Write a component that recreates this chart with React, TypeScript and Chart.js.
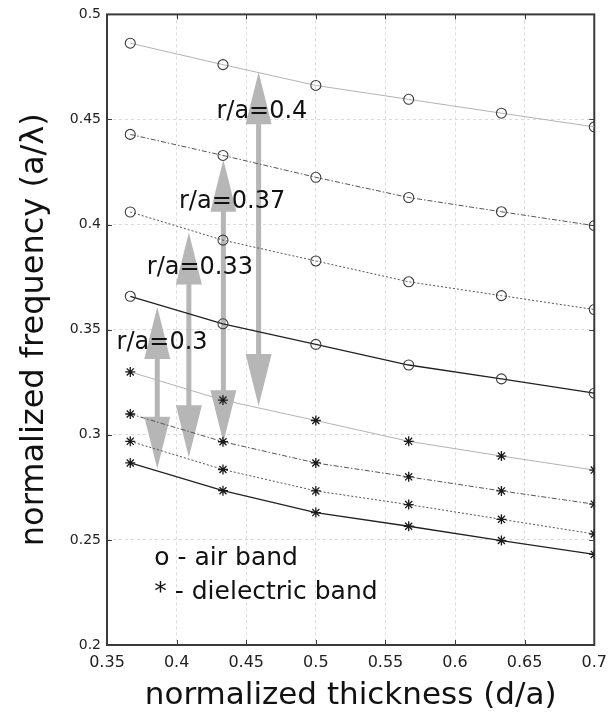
import React, { useEffect, useRef } from "react";
import { Chart, registerables } from "chart.js";

Chart.register(...registerables);

// ---- data ----
const thickness = [0.3667, 0.4333, 0.5, 0.5667, 0.6333, 0.7];

const airBand04 = [0.4863, 0.4761, 0.4662, 0.4596, 0.453, 0.4465];
const airBand037 = [0.4429, 0.4329, 0.4225, 0.4129, 0.4061, 0.3995];
const airBand033 = [0.406, 0.3926, 0.3827, 0.3728, 0.3662, 0.3596];
const airBand03 = [0.3659, 0.3528, 0.343, 0.3332, 0.3266, 0.3198];

const dielBand04 = [0.3299, 0.3165, 0.3068, 0.2969, 0.2899, 0.2832];
const dielBand037 = [0.3099, 0.2967, 0.2866, 0.28, 0.2733, 0.267];
const dielBand033 = [0.2969, 0.2835, 0.2733, 0.2668, 0.2598, 0.2528];
const dielBand03 = [0.2866, 0.2734, 0.263, 0.2565, 0.2497, 0.2431];

const xTicks = [0.35, 0.4, 0.45, 0.5, 0.55, 0.6, 0.65, 0.7];
const xTickLabels = ["0.35", "0.4", "0.45", "0.5", "0.55", "0.6", "0.65", "0.7"];
const yTicks = [0.2, 0.25, 0.3, 0.35, 0.4, 0.45, 0.5];
const yTickLabels = ["0.2", "0.25", "0.3", "0.35", "0.4", "0.45", "0.5"];

// gap annotations (double arrows) and their labels
const gapLabels = ["r/a=0.3", "r/a=0.33", "r/a=0.37", "r/a=0.4"];
const gapArrowX = [0.3861, 0.4088, 0.4336, 0.4589];
const gapArrowLow = [0.2838, 0.2893, 0.2964, 0.3137];
const gapArrowHigh = [0.3608, 0.3962, 0.4308, 0.4725];
const gapLabelX = [0.3569, 0.3786, 0.4017, 0.4286];
const gapLabelY = [0.3406, 0.3766, 0.408, 0.4505];

const legendLines = ["o - air band", "* - dielectric band"];
const legendX = [0.384, 0.384];
const legendY = [0.2382, 0.222];

const xTitle = "normalized thickness (d/a)";
const yTitle = "normalized frequency (a/\u03BB)";

const FONT = "'DejaVu Sans', 'Liberation Sans', sans-serif";

const toPts = (ys: number[]) => thickness.map((x, i) => ({ x, y: ys[i] }));

type Style = { color: string; dash: number[]; width: number };
const style04: Style = { color: "#b3b3b3", dash: [], width: 1 };
const style037: Style = { color: "#555555", dash: [5, 2, 1.5, 2], width: 1 };
const style033: Style = { color: "#555555", dash: [2, 2], width: 1 };
const style03: Style = { color: "#222222", dash: [], width: 1.3 };

function mk(label: string, ys: number[], st: Style, marker: "circle" | "star") {
  return {
    label,
    data: toPts(ys),
    showLine: true,
    borderColor: st.color,
    borderWidth: st.width,
    borderDash: st.dash,
    pointStyle: marker,
    pointRadius: marker === "circle" ? 5 : 5,
    pointBorderColor: marker === "circle" ? "#3c3c3c" : "#1a1a1a",
    pointBackgroundColor: "rgba(0,0,0,0)",
    pointBorderWidth: marker === "circle" ? 1.1 : 1.3,
    tension: 0,
  };
}

const overlayPlugin = {
  id: "overlay",
  beforeDatasetsDraw(chart: any) {
    const { ctx, chartArea: a, scales } = chart;
    const x = scales.x;
    const y = scales.y;
    ctx.save();

    // double arrows
    const headLen = 52;
    const headW = 26;
    const shaftW = 5;
    ctx.fillStyle = "#b6b6b6";
    gapArrowX.forEach((xv, i) => {
      const px = x.getPixelForValue(xv);
      const yl = y.getPixelForValue(gapArrowLow[i]);
      const yh = y.getPixelForValue(gapArrowHigh[i]);
      ctx.beginPath();
      // top head
      ctx.moveTo(px, yh);
      ctx.lineTo(px + headW / 2, yh + headLen);
      ctx.lineTo(px + shaftW / 2, yh + headLen);
      ctx.lineTo(px + shaftW / 2, yl - headLen);
      ctx.lineTo(px + headW / 2, yl - headLen);
      ctx.lineTo(px, yl);
      ctx.lineTo(px - headW / 2, yl - headLen);
      ctx.lineTo(px - shaftW / 2, yl - headLen);
      ctx.lineTo(px - shaftW / 2, yh + headLen);
      ctx.lineTo(px - headW / 2, yh + headLen);
      ctx.closePath();
      ctx.fill();
    });

    // labels
    ctx.fillStyle = "#111";
    ctx.textAlign = "left";
    ctx.textBaseline = "alphabetic";
    ctx.font = `24px ${FONT}`;
    gapLabels.forEach((t, i) => {
      ctx.fillText(t, x.getPixelForValue(gapLabelX[i]), y.getPixelForValue(gapLabelY[i]));
    });
    ctx.font = `25px ${FONT}`;
    legendLines.forEach((t, i) => {
      ctx.fillText(t, x.getPixelForValue(legendX[i]), y.getPixelForValue(legendY[i]));
    });

    // frame + inner ticks
    ctx.strokeStyle = "#3a3a3a";
    ctx.lineWidth = 2;
    ctx.strokeRect(a.left, a.top, a.right - a.left, a.bottom - a.top);
    ctx.lineWidth = 1;
    const tl = 5;
    ctx.beginPath();
    xTicks.forEach((v) => {
      const px = Math.round(x.getPixelForValue(v)) + 0.5;
      ctx.moveTo(px, a.bottom);
      ctx.lineTo(px, a.bottom - tl);
      ctx.moveTo(px, a.top);
      ctx.lineTo(px, a.top + tl);
    });
    yTicks.forEach((v) => {
      const py = Math.round(y.getPixelForValue(v)) + 0.5;
      ctx.moveTo(a.left, py);
      ctx.lineTo(a.left + tl, py);
      ctx.moveTo(a.right, py);
      ctx.lineTo(a.right - tl, py);
    });
    ctx.stroke();
    ctx.restore();
  },
};

export default function App() {
  const ref = useRef<HTMLCanvasElement | null>(null);

  useEffect(() => {
    if (!ref.current) return;
    const chart = new Chart(ref.current, {
      type: "scatter",
      data: {
        datasets: [
          mk("air r/a=0.4", airBand04, style04, "circle"),
          mk("air r/a=0.37", airBand037, style037, "circle"),
          mk("air r/a=0.33", airBand033, style033, "circle"),
          mk("air r/a=0.3", airBand03, style03, "circle"),
          mk("dielectric r/a=0.4", dielBand04, style04, "star"),
          mk("dielectric r/a=0.37", dielBand037, style037, "star"),
          mk("dielectric r/a=0.33", dielBand033, style033, "star"),
          mk("dielectric r/a=0.3", dielBand03, style03, "star"),
        ] as any,
      },
      options: {
        animation: false,
        responsive: false,
        layout: { padding: { top: 10, right: 14, left: 0, bottom: 0 } },
        plugins: { legend: { display: false }, tooltip: { enabled: false } },
        scales: {
          x: {
            type: "linear",
            min: 0.35,
            max: 0.7,
            afterBuildTicks: (s: any) => {
              s.ticks = xTicks.map((v) => ({ value: v }));
            },
            afterFit: (s: any) => {
              s.height = 74;
            },
            ticks: {
              autoSkip: false,
              maxRotation: 0,
              padding: 8,
              color: "#222",
              font: { family: FONT, size: 16 },
              callback: (_v: any, i: number) => xTickLabels[i],
            },
            grid: { color: "#dadada", lineWidth: 1, drawTicks: false },
            border: { display: false, dash: [3, 3] },
            title: {
              display: true,
              text: xTitle,
              color: "#111",
              font: { family: FONT, size: 31 },
              padding: { top: 0, bottom: 4 },
            },
          },
          y: {
            type: "linear",
            min: 0.2,
            max: 0.5,
            afterBuildTicks: (s: any) => {
              s.ticks = yTicks.map((v) => ({ value: v }));
            },
            afterFit: (s: any) => {
              s.width = 107;
            },
            ticks: {
              autoSkip: false,
              padding: 6,
              color: "#222",
              font: { family: FONT, size: 14 },
              callback: (_v: any, i: number) => yTickLabels[i],
            },
            grid: { color: "#dadada", lineWidth: 1, drawTicks: false },
            border: { display: false, dash: [3, 3] },
            title: {
              display: true,
              text: yTitle,
              color: "#111",
              font: { family: FONT, size: 32 },
              padding: { top: 15, bottom: 0 },
            },
          },
        },
      },
      plugins: [overlayPlugin],
    } as any);
    return () => chart.destroy();
  }, []);

  return (
    <div style={{ position: "absolute", left: 0, top: 0, width: 615, height: 719, background: "#fff" }}>
      <canvas ref={ref} width={615} height={719} style={{ display: "block" }} />
    </div>
  );
}
